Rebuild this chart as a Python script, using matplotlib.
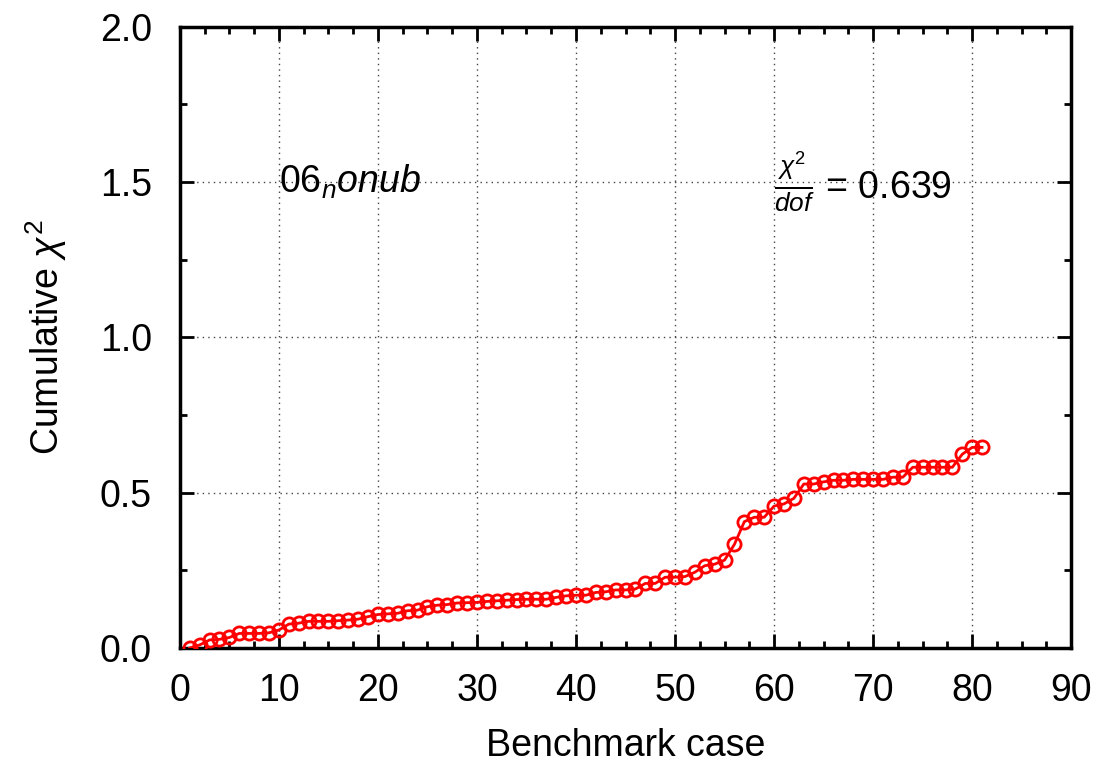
import matplotlib
matplotlib.use("Agg")
import matplotlib.pyplot as plt
from matplotlib.ticker import MultipleLocator

plt.rcParams['font.family'] = ['Liberation Sans', 'DejaVu Sans']
plt.rcParams['mathtext.fontset'] = 'custom'
plt.rcParams['mathtext.rm'] = 'Liberation Sans'
plt.rcParams['mathtext.it'] = 'Liberation Sans:italic'
plt.rcParams['mathtext.sf'] = 'Liberation Sans'

case = list(range(1, 82))
cum_chi2 = [
    0.000, 0.010, 0.026, 0.028, 0.034, 0.047, 0.047, 0.047, 0.049, 0.058,
    0.077, 0.080, 0.086, 0.086, 0.086, 0.088, 0.090, 0.093, 0.101, 0.108,
    0.110, 0.112, 0.120, 0.122, 0.133, 0.138, 0.140, 0.145, 0.146, 0.147,
    0.150, 0.152, 0.154, 0.156, 0.157, 0.157, 0.157, 0.163, 0.168, 0.170,
    0.170, 0.179, 0.181, 0.187, 0.187, 0.190, 0.208, 0.208, 0.228, 0.228,
    0.230, 0.244, 0.265, 0.270, 0.283, 0.334, 0.407, 0.421, 0.421, 0.457,
    0.464, 0.482, 0.528, 0.528, 0.535, 0.540, 0.540, 0.543, 0.543, 0.543,
    0.543, 0.550, 0.550, 0.582, 0.582, 0.582, 0.582, 0.582, 0.624, 0.646,
    0.646,
]

fig = plt.figure(figsize=(11.17, 7.66), dpi=100)
ax = fig.add_axes([0.161, 0.154, 0.798, 0.811])

ax.plot(case, cum_chi2, color='#ff0000', lw=2.0, marker='o', ms=9.5,
        mfc='none', mec='#ff0000', mew=2.0, zorder=3)

ax.set_xlim(0, 90)
ax.set_ylim(0, 2.0)
ax.xaxis.set_major_locator(MultipleLocator(10))
ax.xaxis.set_minor_locator(MultipleLocator(2.5))
ax.yaxis.set_major_locator(MultipleLocator(0.5))
ax.yaxis.set_minor_locator(MultipleLocator(0.25))
ax.yaxis.set_major_formatter(plt.FuncFormatter(lambda v, p: f"{v:.1f}"))

ax.grid(True, which='major', color='#444444', linestyle=(0, (1, 3)), lw=1.0)
for s in ax.spines.values():
    s.set_linewidth(2.5)
ax.tick_params(which='both', direction='in', top=True, right=True, width=2.0,
               labelsize=27)
ax.tick_params(axis='x', which='major', pad=18)
ax.tick_params(axis='y', which='major', pad=20)
ax.tick_params(which='major', length=10)
ax.tick_params(which='minor', length=5)

ax.set_xlabel('Benchmark case', fontsize=27, labelpad=14)
ax.set_ylabel('Cumulative $\\chi^2$', fontsize=27, labelpad=22)

ax.text(10, 1.5, '06$_{n}$$\\it{onub}$', fontsize=27, va='center', ha='left')
ax.text(60, 1.5, '$\\frac{\\chi^2}{dof}$ = 0.639', fontsize=27, va='center', ha='left')

fig.savefig('out.png', dpi=100)
